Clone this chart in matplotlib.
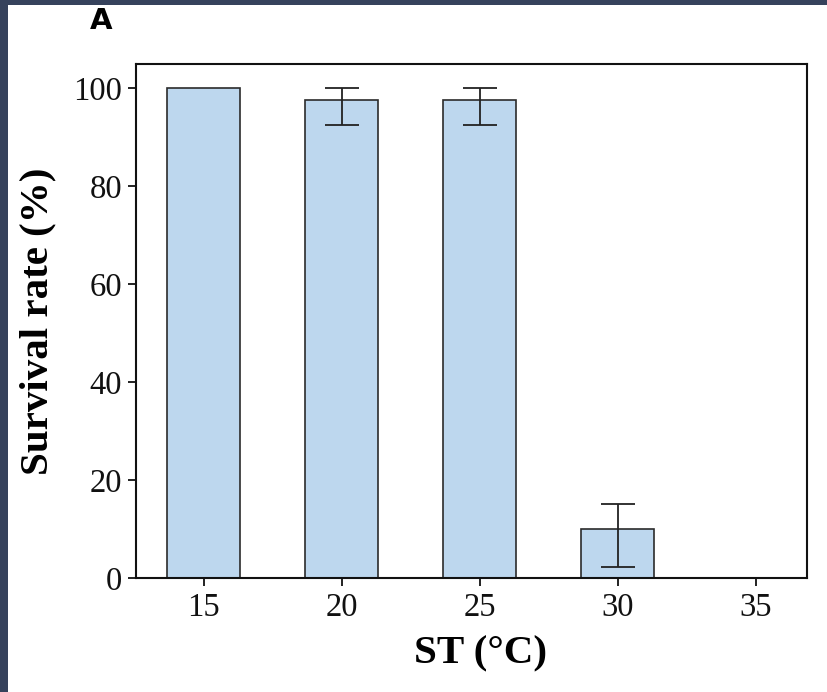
import matplotlib
matplotlib.use("Agg")
import matplotlib.pyplot as plt
from matplotlib.patches import Rectangle

# survival at each soil temperature
temps = ["15", "20", "25", "30", "35"]
survival = [100.0, 97.5, 97.5, 10.0, 0.0]
err_low = [0.0, 5.0, 5.0, 7.6, 0.0]
err_high = [0.0, 2.5, 2.5, 5.2, 0.0]

W, H, DPI = 828, 692, 100
fig = plt.figure(figsize=(W / DPI, H / DPI), dpi=DPI, facecolor="white")

# dark frame strips on the left and top edges
fig.patches.append(Rectangle((0, 0), 8 / W, 1, transform=fig.transFigure,
                             facecolor="#36425c", edgecolor="none", zorder=-1))
fig.patches.append(Rectangle((0, 1 - 5 / H), 1, 5 / H, transform=fig.transFigure,
                             facecolor="#36425c", edgecolor="none", zorder=-1))

ax = fig.add_axes([136 / W, 1 - 578.3 / H, (807 - 136) / W, (578.3 - 64) / H])

x = list(range(len(temps)))
ax.bar(x, survival, width=0.53, color="#bdd7ee", edgecolor="#2b2b2b",
       linewidth=1.2, zorder=2)
ax.errorbar([x[i] for i in range(1, 4)], survival[1:4],
            yerr=[err_low[1:4], err_high[1:4]], fmt="none",
            ecolor="#222222", elinewidth=1.3, capsize=12, capthick=1.3, zorder=3)

ax.set_xlim(-0.49, 4.37)
ax.set_ylim(0, 104.9)
ax.set_xticks(x)
ax.set_xticklabels(temps)
ax.set_yticks([0, 20, 40, 60, 80, 100])

serif = "Liberation Serif"
for lab in ax.get_xticklabels() + ax.get_yticklabels():
    lab.set_fontfamily(serif)
    lab.set_fontsize(23.5)

ax.tick_params(direction="out", length=6, width=1.3, pad=4, colors="#111111")
for s in ax.spines.values():
    s.set_linewidth(1.5)
    s.set_color("#111111")

ax.set_ylabel("Survival rate (%)", fontfamily=serif, fontweight="bold",
              fontsize=29.5, labelpad=12)
ax.set_xlabel("ST (°C)", fontfamily=serif, fontweight="bold",
              fontsize=29.5, labelpad=9)
ax.xaxis.label.set_x(0.513)

fig.text(101 / W, 1 - 21 / H, "A", fontfamily="DejaVu Sans",
         fontweight="bold", fontsize=21, ha="center", va="center")

fig.savefig("out.png", dpi=DPI, facecolor="white")
